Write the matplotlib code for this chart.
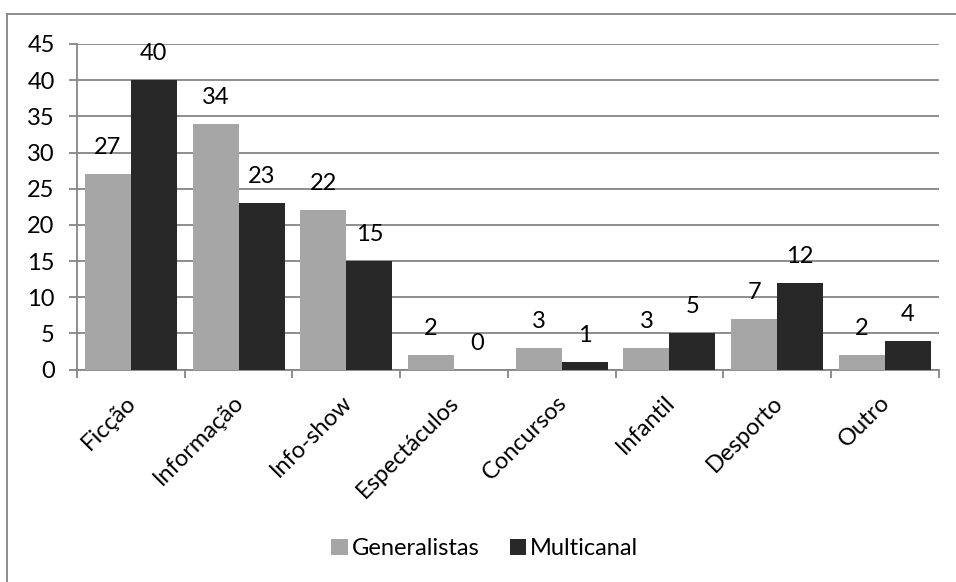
import numpy as np
import matplotlib
matplotlib.use("Agg")
import matplotlib.pyplot as plt
from matplotlib.lines import Line2D

plt.rcParams['font.family'] = ['Lato', 'DejaVu Sans']

categorias = ["Ficção", "Informação", "Info-show", "Espectáculos",
              "Concursos", "Infantil", "Desporto", "Outro"]
generalistas = [27, 34, 22, 2, 3, 3, 7, 2]
multicanal = [40, 23, 15, 0, 1, 5, 12, 4]

cor_gen = "#a6a6a6"
cor_mul = "#282828"
cor_grelha = "#868686"
tam = 17

fig = plt.figure(figsize=(9.56, 5.82), dpi=100)
ax = fig.add_axes([0.0805, 0.3651, 0.9015, 0.5593])

x = np.arange(len(categorias))
w = 0.427
b1 = ax.bar(x - w / 2, generalistas, w, color=cor_gen, label="Generalistas", zorder=3)
b2 = ax.bar(x + w / 2, multicanal, w, color=cor_mul, label="Multicanal", zorder=3)

# rótulos de valor por cima das barras
for barras in (b1, b2):
    for r in barras:
        ax.annotate(str(int(r.get_height())),
                    (r.get_x() + r.get_width() / 2, r.get_height()),
                    xytext=(0, 16), textcoords="offset pixels",
                    ha="center", va="bottom", fontsize=tam, color="black")

ax.set_xlim(-0.5, len(categorias) - 0.5)
ax.set_ylim(0, 45)
ax.set_yticks(range(0, 46, 5))
ax.yaxis.grid(True, color=cor_grelha, linewidth=1.3, zorder=0)

for s in ("top", "right"):
    ax.spines[s].set_visible(False)
for s in ("left", "bottom"):
    ax.spines[s].set_color(cor_grelha)
    ax.spines[s].set_linewidth(1.3)

ax.set_xticks(np.arange(-0.5, len(categorias), 1.0))
ax.set_xticklabels([])
ax.set_xticks(x - 0.05, minor=True)
ax.set_xticklabels(categorias, minor=True, rotation=45, ha="right",
                   rotation_mode="anchor", fontsize=tam)
ax.tick_params(axis="x", which="minor", length=0, pad=16)
ax.tick_params(axis="x", which="major", length=6, width=1.3, color=cor_grelha)
ax.tick_params(axis="y", length=6, width=1.3, color=cor_grelha, labelsize=tam, pad=10)

fig.legend(handles=[b1, b2], loc="center", bbox_to_anchor=(0.507, 0.057),
           ncol=2, frameon=False, fontsize=tam, handlelength=0.7,
           handleheight=0.7, handletextpad=0.15, columnspacing=1.3)

# moldura do gráfico
fig.add_artist(Line2D([7 / 956, 1.0], [1 - 14 / 582, 1 - 14 / 582],
                      transform=fig.transFigure, color=cor_grelha, linewidth=1.3))
fig.add_artist(Line2D([7 / 956, 7 / 956], [0.0, 1 - 14 / 582],
                      transform=fig.transFigure, color=cor_grelha, linewidth=1.3))

fig.savefig("out.png", dpi=100)
